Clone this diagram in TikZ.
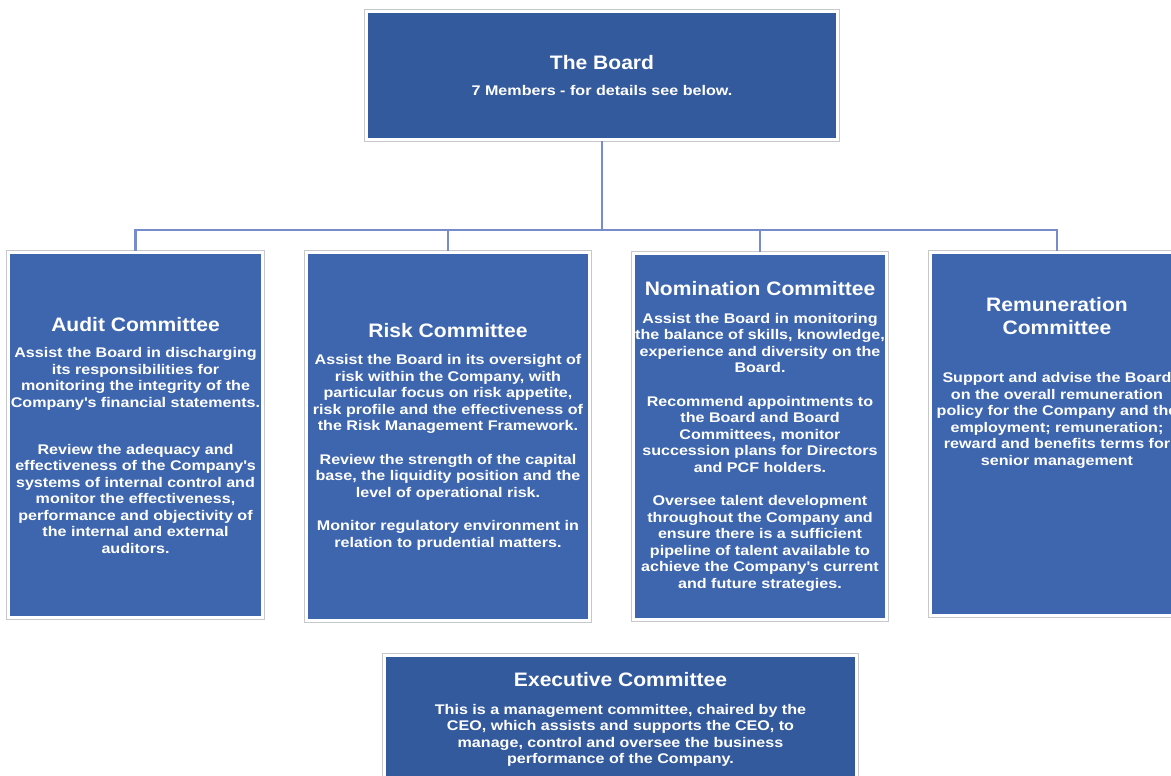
\documentclass[tikz,border=0pt]{standalone}
\usepackage{fontspec}
\setmainfont{Liberation Sans}
\newfontfamily\bodyfam{Liberation Sans}[FakeStretch=1.15]
\newfontfamily\headfam{Liberation Sans}[FakeStretch=1.08]
\usetikzlibrary{calc}

\definecolor{boarddark}{RGB}{52,90,158}
\definecolor{commblue}{RGB}{61,102,175}
\definecolor{linkblue}{RGB}{118,140,205}
\definecolor{framegray}{RGB}{200,200,200}

\newcommand{\headfont}{\headfam\fontsize{19.5}{23}\selectfont}
\newcommand{\bodyfont}{\bodyfam\fontsize{14}{16.5}\selectfont}
\newcommand{\apos}{\textquotesingle}

\begin{document}
\begin{tikzpicture}[
        x=1pt, y=-1pt,
        box/.style={fill=commblue, text=white, align=center, inner sep=0pt, font=\bodyfont\bfseries},
        frame/.style={draw=framegray, line width=0.8pt},
        link/.style={draw=linkblue, line width=2.5pt, shorten <=3pt, shorten >=3pt}
    ]
        \useasboundingbox (0,0) rectangle (1171,776);
        \clip (0,0) rectangle (1171,776);

        \node[box, fill=boarddark, minimum width=468, minimum height=125] (board) at (602,75.5)
            {{\headfont The Board}\\[10pt]
             7 Members - for details see below.};

        \node[box, minimum width=251, minimum height=362] (audit) at (135.5,435)
            {{\headfont Audit Committee}\\[10pt]
             Assist the Board in discharging\\
             its responsibilities for\\
             monitoring the integrity of the\\
             Company\apos s financial statements.\\[30.5pt]
             Review the adequacy and\\
             effectiveness of the Company\apos s\\
             systems of internal control and\\
             monitor the effectiveness,\\
             performance and objectivity of\\
             the internal and external\\
             auditors.};

        \node[box, minimum width=280, minimum height=365] (risk) at (448,436.5)
            {{\headfont Risk Committee}\\[11pt]
             Assist the Board in its oversight of\\
             risk within the Company, with\\
             particular focus on risk appetite,\\
             risk profile and the effectiveness of\\
             the Risk Management Framework.\\[17pt]
             Review the strength of the capital\\
             base, the liquidity position and the\\
             level of operational risk.\\[17pt]
             Monitor regulatory environment in\\
             relation to prudential matters.};

        \node[box, minimum width=250, minimum height=363] (nom) at (760,436.5)
            {{\headfont Nomination Committee}\\[11pt]
             Assist the Board in monitoring\\
             the balance of skills, knowledge,\\
             experience and diversity on the\\
             Board.\\[17pt]
             Recommend appointments to\\
             the Board and Board\\
             Committees, monitor\\
             succession plans for Directors\\
             and PCF holders.\\[17pt]
             Oversee talent development\\
             throughout the Company and\\
             ensure there is a sufficient\\
             pipeline of talent available to\\
             achieve the Company\apos s current\\
             and future strategies.};

        \node[box, minimum width=250, minimum height=360] (rem) at (1057,434)
            {{\headfont Remuneration}\\[6.5pt]
             {\headfont Committee}\\[31.5pt]
             Support and advise the Board\\
             on the overall remuneration\\
             policy for the Company and the\\
             employment; remuneration;\\
             reward and benefits terms for\\
             senior management\\[83.5pt]
             \strut};

        \node[box, fill=boarddark, minimum width=469, minimum height=125] (exec) at (620.5,719.5)
            {{\headfont Executive Committee}\\[11pt]
             This is a management committee, chaired by the\\
             CEO, which assists and supports the CEO, to\\
             manage, control and oversee the business\\
             performance of the Company.};

        % thin outer frames
        \foreach \n in {board,audit,risk,nom,rem,exec}
            \draw[frame] ($(\n.north west)+(-3,-3)$) rectangle ($(\n.south east)+(3,3)$);

        % connectors
        \coordinate (bus) at (602,230);
        \foreach \c in {audit,risk,nom,rem}
            \draw[link] (board.south) -- (bus) -| (\c.north);
    \end{tikzpicture}
\end{document}
